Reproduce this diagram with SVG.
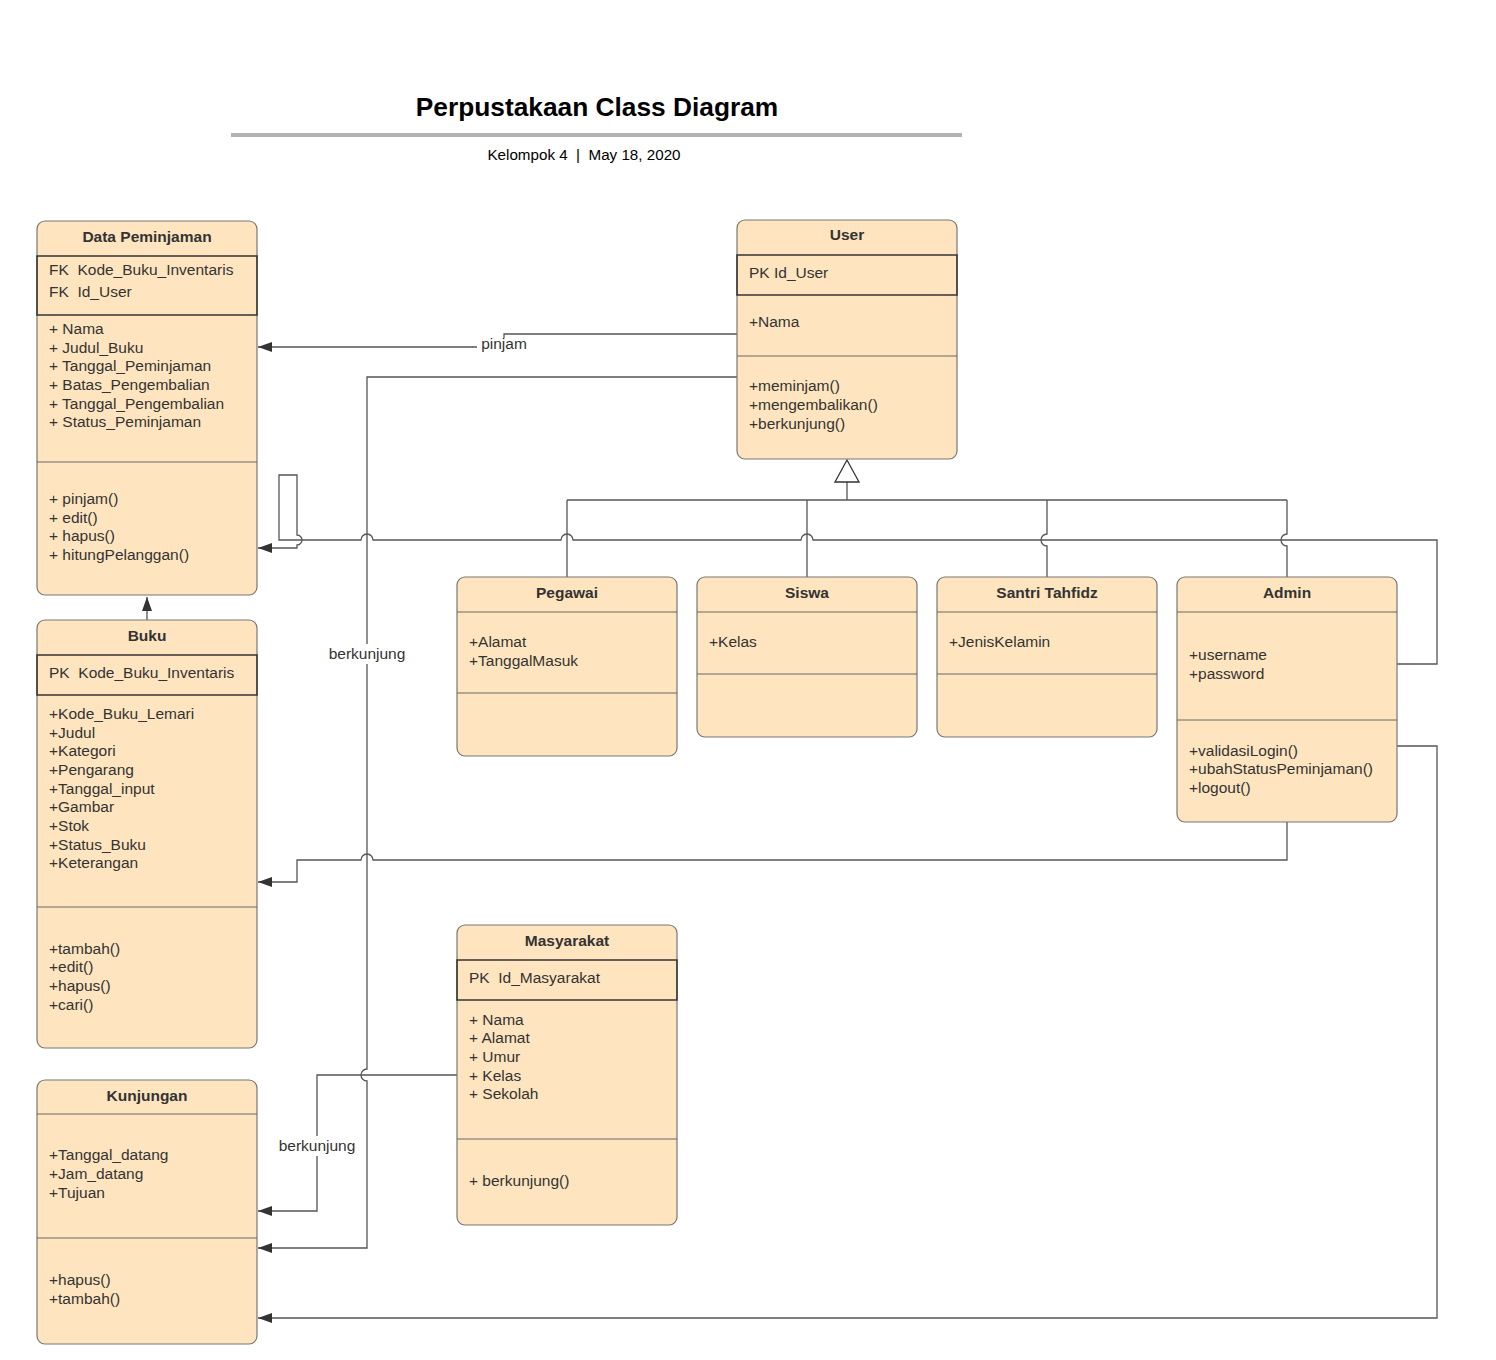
<svg xmlns="http://www.w3.org/2000/svg" width="1496" height="1360" viewBox="0 0 1496 1360">
<style>
.box{fill:#ffe5bf;stroke:#777;stroke-width:1.2}
.sep{stroke:#666;stroke-width:1;fill:none}
.pk{fill:none;stroke:#333;stroke-width:1.5}
text{font-family:"Liberation Sans",Arial,sans-serif;font-size:15.5px;fill:#333}
.h{font-weight:bold;text-anchor:middle}
.c{fill:none;stroke:#555;stroke-width:1.3}
.a{marker-end:url(#arr)}
.lbl{text-anchor:middle}
.bg{fill:#fff}
</style>
<defs>
<marker id="arr" markerUnits="userSpaceOnUse" markerWidth="16" markerHeight="12" refX="14" refY="5" orient="auto">
<path d="M0,0 L14,5 L0,10 z" fill="#333"/>
</marker>
</defs>
<rect width="1496" height="1360" fill="#fff"/>
<g id="title">
<text x="597" y="116" text-anchor="middle" style="font-size:26.3px;font-weight:bold;fill:#000">Perpustakaan Class Diagram</text>
<line x1="231" y1="135" x2="962" y2="135" stroke="#b3b3b3" stroke-width="4"/>
<text x="584" y="160" text-anchor="middle" style="font-size:15.2px;fill:#000" xml:space="preserve">Kelompok 4  |  May 18, 2020</text>
</g>
<g id="connectors">
<path class="c a" d="M737,334 H504 V347 H258"/>
<path class="c a" d="M737,377 H367 V1069 A6,6 0 0 0 367,1081 V1248 H258"/>
<path class="c a" d="M457,1075 H317 V1211 H258"/>
<path class="c a" d="M1287,822 V860 H373 A6,6 0 0 0 361,860 H297 V882 H258"/>
<path class="c a" d="M1397,664 H1437 V540 H813 A6,6 0 0 0 801,540 H573 A6,6 0 0 0 561,540 H373 A6,6 0 0 0 361,540 H279 V475 H297 V535 A5,5 0 0 1 297,545 V548 H258"/>
<path class="c a" d="M1397,746 H1437 V1318 H258"/>
<path class="c a" d="M147,620 V597"/>
<path class="c" d="M847,482 V500 M567,500 H1287 M567,500 V577 M807,500 V577 M1047,500 V534 A6,6 0 0 0 1047,546 V577 M1287,500 V534 A6,6 0 0 0 1287,546 V577"/>
<polygon points="847,460 835,482 859,482" fill="#fff" stroke="#333" stroke-width="1.3"/>
<rect class="bg" x="477" y="338" width="54" height="17"/>
<text class="lbl" x="504" y="349">pinjam</text>
<rect class="bg" x="326" y="644" width="82" height="20"/>
<text class="lbl" x="367" y="659">berkunjung</text>
<rect class="bg" x="276" y="1136" width="82" height="20"/>
<text class="lbl" x="317" y="1151">berkunjung</text>
</g>
<g id="data-peminjaman">
<rect class="box" x="37" y="221" width="220" height="374" rx="8"/>
<rect class="pk" x="37" y="256" width="220" height="59"/>
<line class="sep" x1="37" y1="462" x2="257" y2="462"/>
<text class="h" x="147" y="242">Data Peminjaman</text>
<text x="49" y="275" xml:space="preserve">FK  Kode_Buku_Inventaris</text>
<text x="49" y="297" xml:space="preserve">FK  Id_User</text>
<text x="49" y="334">+ Nama</text>
<text x="49" y="353">+ Judul_Buku</text>
<text x="49" y="371">+ Tanggal_Peminjaman</text>
<text x="49" y="390">+ Batas_Pengembalian</text>
<text x="49" y="409">+ Tanggal_Pengembalian</text>
<text x="49" y="427">+ Status_Peminjaman</text>
<text x="49" y="504">+ pinjam()</text>
<text x="49" y="523">+ edit()</text>
<text x="49" y="541">+ hapus()</text>
<text x="49" y="560">+ hitungPelanggan()</text>
</g>
<g id="user">
<rect class="box" x="737" y="220" width="220" height="239" rx="8"/>
<rect class="pk" x="737" y="255" width="220" height="40"/>
<line class="sep" x1="737" y1="356" x2="957" y2="356"/>
<text class="h" x="847" y="240">User</text>
<text x="749" y="278">PK Id_User</text>
<text x="749" y="327">+Nama</text>
<text x="749" y="391">+meminjam()</text>
<text x="749" y="410">+mengembalikan()</text>
<text x="749" y="429">+berkunjung()</text>
</g>
<g id="pegawai">
<rect class="box" x="457" y="577" width="220" height="179" rx="8"/>
<line class="sep" x1="457" y1="612" x2="677" y2="612"/>
<line class="sep" x1="457" y1="693" x2="677" y2="693"/>
<text class="h" x="567" y="598">Pegawai</text>
<text x="469" y="647">+Alamat</text>
<text x="469" y="666">+TanggalMasuk</text>
</g>
<g id="siswa">
<rect class="box" x="697" y="577" width="220" height="160" rx="8"/>
<line class="sep" x1="697" y1="612" x2="917" y2="612"/>
<line class="sep" x1="697" y1="674" x2="917" y2="674"/>
<text class="h" x="807" y="598">Siswa</text>
<text x="709" y="647">+Kelas</text>
</g>
<g id="santri-tahfidz">
<rect class="box" x="937" y="577" width="220" height="160" rx="8"/>
<line class="sep" x1="937" y1="612" x2="1157" y2="612"/>
<line class="sep" x1="937" y1="674" x2="1157" y2="674"/>
<text class="h" x="1047" y="598">Santri Tahfidz</text>
<text x="949" y="647">+JenisKelamin</text>
</g>
<g id="admin">
<rect class="box" x="1177" y="577" width="220" height="245" rx="8"/>
<line class="sep" x1="1177" y1="612" x2="1397" y2="612"/>
<line class="sep" x1="1177" y1="720" x2="1397" y2="720"/>
<text class="h" x="1287" y="598">Admin</text>
<text x="1189" y="660">+username</text>
<text x="1189" y="679">+password</text>
<text x="1189" y="756">+validasiLogin()</text>
<text x="1189" y="774">+ubahStatusPeminjaman()</text>
<text x="1189" y="793">+logout()</text>
</g>
<g id="buku">
<rect class="box" x="37" y="620" width="220" height="428" rx="8"/>
<rect class="pk" x="37" y="655" width="220" height="40"/>
<line class="sep" x1="37" y1="907" x2="257" y2="907"/>
<text class="h" x="147" y="641">Buku</text>
<text x="49" y="678" xml:space="preserve">PK  Kode_Buku_Inventaris</text>
<text x="49" y="719">+Kode_Buku_Lemari</text>
<text x="49" y="738">+Judul</text>
<text x="49" y="756">+Kategori</text>
<text x="49" y="775">+Pengarang</text>
<text x="49" y="794">+Tanggal_input</text>
<text x="49" y="812">+Gambar</text>
<text x="49" y="831">+Stok</text>
<text x="49" y="850">+Status_Buku</text>
<text x="49" y="868">+Keterangan</text>
<text x="49" y="954">+tambah()</text>
<text x="49" y="972">+edit()</text>
<text x="49" y="991">+hapus()</text>
<text x="49" y="1010">+cari()</text>
</g>
<g id="kunjungan">
<rect class="box" x="37" y="1080" width="220" height="264" rx="8"/>
<line class="sep" x1="37" y1="1114" x2="257" y2="1114"/>
<line class="sep" x1="37" y1="1238" x2="257" y2="1238"/>
<text class="h" x="147" y="1101">Kunjungan</text>
<text x="49" y="1160">+Tanggal_datang</text>
<text x="49" y="1179">+Jam_datang</text>
<text x="49" y="1198">+Tujuan</text>
<text x="49" y="1285">+hapus()</text>
<text x="49" y="1304">+tambah()</text>
</g>
<g id="masyarakat">
<rect class="box" x="457" y="925" width="220" height="300" rx="8"/>
<rect class="pk" x="457" y="960" width="220" height="40"/>
<line class="sep" x1="457" y1="1139" x2="677" y2="1139"/>
<text class="h" x="567" y="946">Masyarakat</text>
<text x="469" y="983" xml:space="preserve">PK  Id_Masyarakat</text>
<text x="469" y="1025">+ Nama</text>
<text x="469" y="1043">+ Alamat</text>
<text x="469" y="1062">+ Umur</text>
<text x="469" y="1081">+ Kelas</text>
<text x="469" y="1099">+ Sekolah</text>
<text x="469" y="1186">+ berkunjung()</text>
</g>
</svg>
